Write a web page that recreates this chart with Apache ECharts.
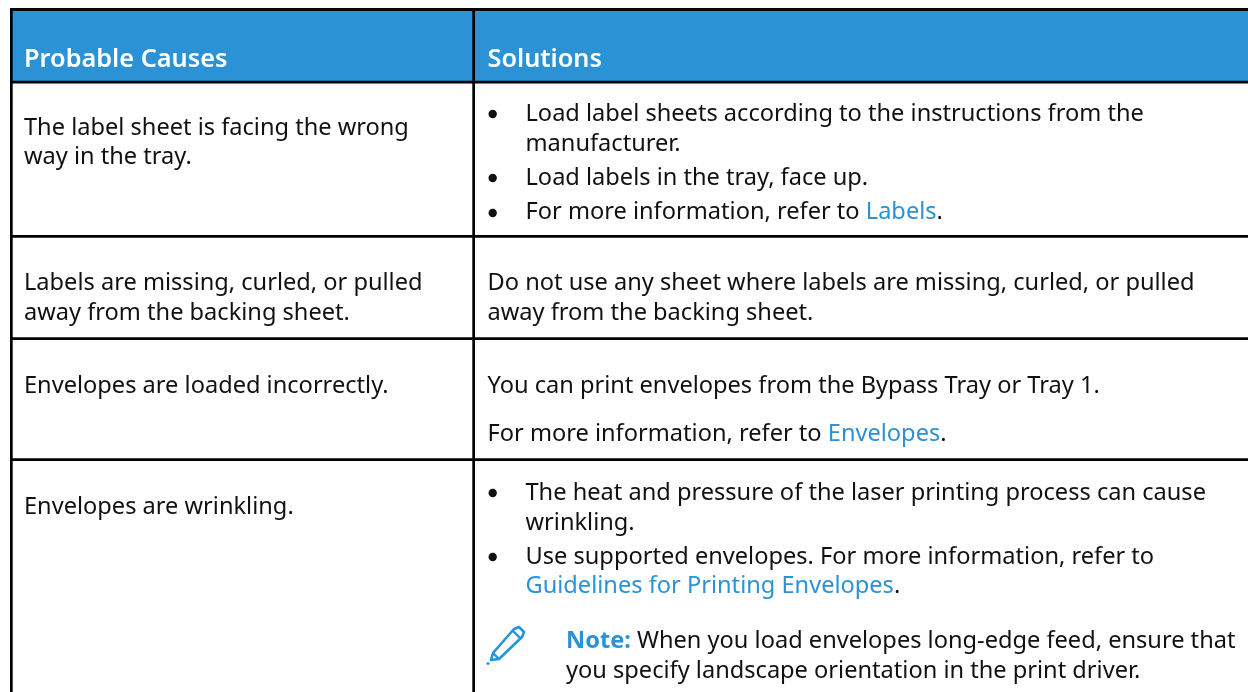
<!DOCTYPE html>
<html><head><meta charset="utf-8">
<style>html,body{margin:0;padding:0;background:#fff}#c{width:1248px;height:692px}</style>
<script src="https://cdn.jsdelivr.net/npm/echarts@6/dist/echarts.min.js"></script>
</head><body><div id="c"></div>
<script>
const headers = ['Probable Causes','Solutions'];
const causes = [
 ['The label sheet is facing the wrong','way in the tray.'],
 ['Labels are missing, curled, or pulled','away from the backing sheet.'],
 ['Envelopes are loaded incorrectly.'],
 ['Envelopes are wrinkling.']
];
const solutions = [
 ['Load label sheets according to the instructions from the','manufacturer.','Load labels in the tray, face up.','For more information, refer to {link|Labels}.'],
 ['Do not use any sheet where labels are missing, curled, or pulled','away from the backing sheet.'],
 ['You can print envelopes from the Bypass Tray or Tray 1.','For more information, refer to {link|Envelopes}.'],
 ['The heat and pressure of the laser printing process can cause','wrinkling.','Use supported envelopes. For more information, refer to','{link|Guidelines for Printing Envelopes}.']
];
const noteLines = ['{note|Note:} When you load envelopes long-edge feed, ensure that','you specify landscape orientation in the print driver.'];

const FONT = '"Noto Sans"', FS = 23.6, BLUE = '#2b92d6', ICON = '#2196dc', INK = '#111';
const rich = {
  link:{fill:BLUE,fontFamily:FONT,fontSize:FS},
  note:{fill:BLUE,fontFamily:FONT,fontSize:FS,fontWeight:'bold'}
};
const g = [];
function rect(x,y,w,h,fill){g.push({type:'rect',silent:true,shape:{x:x,y:y,width:w,height:h},style:{fill:fill}});}
function text(x,y,t,o){g.push({type:'text',silent:true,x:x,y:y+1.5,style:Object.assign({text:t,fill:INK,fontFamily:FONT,fontSize:FS,verticalAlign:'middle',rich:rich},o||{})});}
function bullet(x,y){g.push({type:'circle',silent:true,shape:{cx:x,cy:y,r:4.2},style:{fill:INK}});}

// header + rules
rect(10,11,1238,70,BLUE);
rect(10,8,1238,3,'#000');
[80.7,235,337.3,458.3].forEach(y=>rect(10,y,1238,2.7,'#000'));
rect(10,8,2.7,684,'#000');
rect(472.3,8,2.7,684,'#000');
text(24,58,headers[0],{fill:'#fff',fontWeight:600,fontSize:25.3});
text(487.5,58,headers[1],{fill:'#fff',fontWeight:600,fontSize:25.3});

const LX=24, RX=487.5, BX=525.5, BUL=492.7;
[[127,156],[282,312],[385],[506]].forEach((ys,i)=>ys.forEach((y,j)=>text(LX,y,causes[i][j])));
[113,143,177,211].forEach((y,j)=>{text(BX,y,solutions[0][j]); });
[114,178,213].forEach(y=>bullet(BUL,y));
[282,312].forEach((y,j)=>text(RX,y,solutions[1][j]));
[385,433].forEach((y,j)=>text(RX,y,solutions[2][j]));
[492,522,556,585].forEach((y,j)=>text(BX,y,solutions[3][j]));
[493,557].forEach(y=>bullet(BUL,y));
[640,670].forEach((y,j)=>text(566,y,noteLines[j]));

// pencil icon
g.push({type:'polygon',silent:true,shape:{points:[[491,660],[493,653],[514,629],[519,627],[524,632],[522,637],[499,659]]},style:{fill:null,stroke:ICON,lineWidth:2.6,lineJoin:'round'}});
g.push({type:'line',silent:true,shape:{x1:493,y1:653,x2:499,y2:659},style:{stroke:ICON,lineWidth:2.4}});
g.push({type:'line',silent:true,shape:{x1:513,y1:631,x2:520,y2:638},style:{stroke:ICON,lineWidth:2.4}});
g.push({type:'circle',silent:true,shape:{cx:488,cy:663.5,r:1.5},style:{fill:ICON}});

echarts.init(document.getElementById('c'),null,{renderer:'canvas'}).setOption({animation:false,backgroundColor:'#fff',graphic:{elements:g}});
</script></body></html>
